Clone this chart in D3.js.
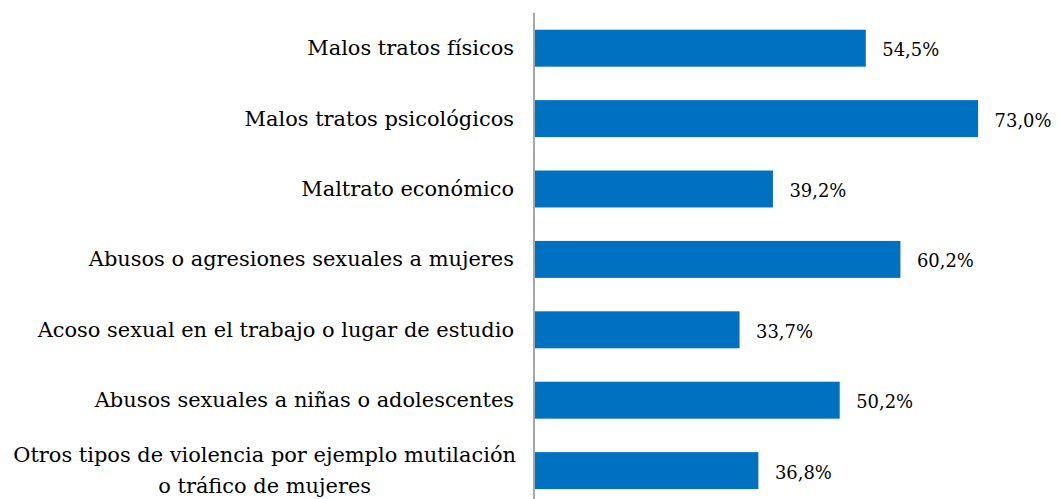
<!DOCTYPE html>
<html><head><meta charset="utf-8">
<script src="https://cdn.jsdelivr.net/npm/d3@7"></script>
<style>html,body{margin:0;padding:0;background:#fff;overflow:hidden}</style>
</head><body><svg id="c" width="1058" height="499"></svg>
<script>
const categories = [
  "Malos tratos físicos",
  "Malos tratos psicológicos",
  "Maltrato económico",
  "Abusos o agresiones sexuales a mujeres",
  "Acoso sexual en el trabajo o lugar de estudio",
  "Abusos sexuales a niñas o adolescentes",
  "Otros tipos de violencia por ejemplo mutilación\no tráfico de mujeres"
];
const values = [54.5, 73.0, 39.2, 60.2, 33.7, 50.2, 36.8];
const xDomain = [0, 80];

const svg = d3.select("#c");
const FONT = "Georgia, 'DejaVu Serif', serif";
const axisX = 534;
const x = d3.scaleLinear().domain(xDomain).range([535, 535 + 6.07 * 80]);
const y = d3.scaleBand().domain(categories).range([13, 13 + 7 * 70.4]).paddingInner(0.475).paddingOuter(0.2375);

const fmt = v => d3.format(".1f")(v).replace(".", ",") + "%";

// fit font sizes to target widths measured on the reference
function fit(str, target) {
  const p = svg.append("text").attr("font-family", FONT).attr("font-size", 20).text(str);
  const w = p.node().getComputedTextLength();
  p.remove();
  return Math.max(12, Math.min(22, 20 * target / w));
}
const fs = fit("Otros tipos de violencia por ejemplo mutilación", 503);
const vfs = fit(fmt(73.0), 57);

// bars
svg.append("g").selectAll("rect").data(values).join("rect")
  .attr("x", x(0))
  .attr("y", (d, i) => y(categories[i]))
  .attr("width", d => x(d) - x(0))
  .attr("height", y.bandwidth())
  .attr("fill", "#0070C0");

// axis line (category axis, no ticks)
const yAxis = d3.axisLeft(y).tickSize(0).tickFormat("");
const ag = svg.append("g").attr("transform", `translate(${axisX},0)`).call(yAxis);
ag.select(".domain").attr("stroke", "#A6A6A6").attr("stroke-width", 2)
  .attr("d", `M0,13V499`);

// category labels
const labelRight = 514;
const lh = fs * 1.45;
const lg = svg.append("g").attr("font-family", FONT).attr("font-size", fs).attr("fill", "#000");
categories.forEach(c => {
  const lines = c.split("\n");
  const cy = y(c) + y.bandwidth() / 2;
  const t = lg.append("text");
  if (lines.length === 1) {
    t.attr("x", labelRight).attr("y", cy + 7).attr("text-anchor", "end").text(c);
  } else {
    const tmp = lg.append("text").text(lines[0]);
    const w = tmp.node().getComputedTextLength();
    tmp.remove();
    const cx = labelRight + 2 - w / 2;
    t.attr("text-anchor", "middle");
    lines.forEach((ln, k) => {
      t.append("tspan").attr("x", cx)
        .attr("y", cy + 7 + (k - (lines.length - 1) / 2) * lh)
        .text(ln);
    });
  }
});

// value labels
svg.append("g").attr("font-family", FONT).attr("font-size", vfs).attr("fill", "#000")
  .selectAll("text").data(values).join("text")
  .attr("x", d => x(d) + 16.5)
  .attr("y", (d, i) => y(categories[i]) + y.bandwidth() / 2 + 8)
  .text(fmt);
</script></body></html>
